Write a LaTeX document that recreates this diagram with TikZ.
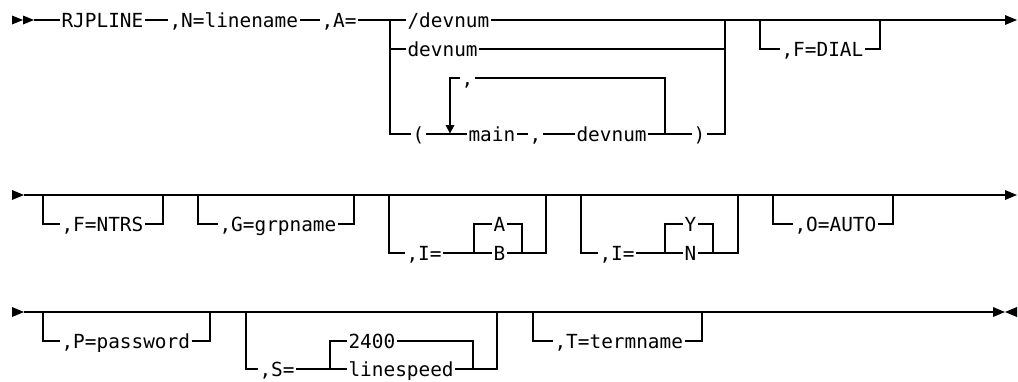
\documentclass[tikz,border=0pt]{standalone}
\usepackage{fontspec}
\setmonofont{DejaVu Sans Mono}
\usepackage{tikz}
\usetikzlibrary{positioning}
\newcommand{\synfont}{\ttfamily\fontsize{9.7}{11}\selectfont}

\begin{document}
\begin{tikzpicture}[x=0.5pt, y=-0.5pt, line width=0.75pt,
  kw/.style={font=\synfont, anchor=west, inner xsep=0.4pt, inner ysep=0pt,
             text height=7pt, text depth=0pt},
  tip/.style={fill=black, draw=none},
]
  \useasboundingbox (0,0) rectangle (1018,381);

  % Row 1
  \fill[tip] (12,15.5) -- (23,20) -- (12,24.5) -- cycle;
  \fill[tip] (23,15.5) -- (34,20) -- (23,24.5) -- cycle;
  \coordinate (s1) at (34,20);
  \coordinate (e1) at (1005,20);
  \node[kw] (cmd)  at (60,20)   {RJPLINE};
  \node[kw] (nam)  at (168,20)  {,N=linename};
  \node[kw] (adr)  at (320,20)  {,A=};
  \node[kw] (sdev) at (406,20)  {/devnum};
  \node[kw] (dev)  at (406,49)  {devnum};
  \node[kw] (lpar) at (411,134) {(};
  \node[kw] (main) at (467,134) {main};
  \node[kw] (sep)  at (528,134) {,};
  \node[kw] (ddev) at (575,134) {devnum};
  \node[kw] (rpar) at (692,134) {)};
  \node[kw] (rep)  at (460,78)  {,};
  \node[kw] (fd)   at (780,49)  {,F=DIAL};
  \coordinate (al)  at (390,20);
  \coordinate (ar)  at (725,20);
  \coordinate (lpl) at (450,78);
  \coordinate (lpb) at (450,125);
  \coordinate (lpr) at (665,78);
  \coordinate (fdl) at (760,20);
  \coordinate (fdr) at (880,20);

  \draw (s1) -- (cmd.west) (cmd.east) -- (nam.west) (nam.east) -- (adr.west)
        (adr.east) -- (sdev.west) (sdev.east) -- (e1);
  \draw (al) |- (dev.west) (dev.east) -| (ar);
  \draw (al) |- (lpar.west) (lpar.east) -- (main.west) (main.east) -- (sep.west)
        (sep.east) -- (ddev.west) (ddev.east) -- (rpar.west) (rpar.east) -| (ar);
  \draw (lpr |- ddev.east) |- (rep.east) (rep.west) -| (lpb);
  \fill[tip] (lpb) ++(-4.5,0) -- ++(9,0) -- ++(-4.5,8.5) -- cycle;
  \draw (fdl) |- (fd.west) (fd.east) -| (fdr);
  \fill[tip] (e1) ++(0,-5) -- ++(12,5) -- ++(-12,5) -- cycle;

  % Row 2
  \fill[tip] (12,190) -- (24,195) -- (12,200) -- cycle;
  \coordinate (s2) at (24,195);
  \coordinate (e2) at (1005,195);
  \draw (s2) -- (e2);
  \fill[tip] (e2) ++(0,-5) -- ++(12,5) -- ++(-12,5) -- cycle;

  \node[kw] (fn) at (60,224)  {,F=NTRS};
  \coordinate (fnl) at (43,195);
  \coordinate (fnr) at (163,195);
  \draw (fnl) |- (fn.west) (fn.east) -| (fnr);

  \node[kw] (gn) at (218,224) {,G=grpname};
  \coordinate (gnl) at (198,195);
  \coordinate (gnr) at (354,195);
  \draw (gnl) |- (gn.west) (gn.east) -| (gnr);

  \node[kw] (ia) at (405,253) {,I=};
  \node[kw] (ya) at (492,224) {A};
  \node[kw] (yb) at (492,253) {B};
  \coordinate (ial)  at (389,195);
  \coordinate (iar)  at (546,195);
  \coordinate (iail) at (474,253);
  \coordinate (iair) at (522,253);
  \draw (ial) |- (ia.west) (ia.east) -- (yb.west) (yb.east) -| (iar);
  \draw (iail) |- (ya.west) (ya.east) -| (iair);

  \node[kw] (ib) at (598,253) {,I=};
  \node[kw] (yy) at (683,224) {Y};
  \node[kw] (yn) at (683,253) {N};
  \coordinate (ibl)  at (581,195);
  \coordinate (ibr)  at (738,195);
  \coordinate (ibil) at (665,253);
  \coordinate (ibir) at (713,253);
  \draw (ibl) |- (ib.west) (ib.east) -- (yn.west) (yn.east) -| (ibr);
  \draw (ibil) |- (yy.west) (yy.east) -| (ibir);

  \node[kw] (oa) at (793,224) {,O=AUTO};
  \coordinate (oal) at (773,195);
  \coordinate (oar) at (893,195);
  \draw (oal) |- (oa.west) (oa.east) -| (oar);

  % Row 3
  \fill[tip] (12,307) -- (24,312) -- (12,317) -- cycle;
  \coordinate (s3) at (24,312);
  \coordinate (e3) at (993,312);
  \draw (s3) -- (e3);
  \fill[tip] (e3) ++(0,-5) -- ++(12,5) -- ++(-12,5) -- cycle;
  \fill[tip] (e3) ++(24,-5) -- ++(-12,5) -- ++(12,5) -- cycle;

  \node[kw] (pw) at (60,341) {,P=password};
  \coordinate (pwl) at (43,312);
  \coordinate (pwr) at (210,312);
  \draw (pwl) |- (pw.west) (pw.east) -| (pwr);

  \node[kw] (sp)  at (258,369) {,S=};
  \node[kw] (sdf) at (347,341) {2400};
  \node[kw] (sln) at (347,369) {linespeed};
  \coordinate (spl)  at (246,312);
  \coordinate (spr)  at (497,312);
  \coordinate (spil) at (330,369);
  \coordinate (spir) at (473,369);
  \draw (spl) |- (sp.west) (sp.east) -- (sln.west) (sln.east) -| (spr);
  \draw (spil) |- (sdf.west) (sdf.east) -| (spir);

  \node[kw] (tn) at (553,341) {,T=termname};
  \coordinate (tnl) at (533,312);
  \coordinate (tnr) at (702,312);
  \draw (tnl) |- (tn.west) (tn.east) -| (tnr);
\end{tikzpicture}
\end{document}
